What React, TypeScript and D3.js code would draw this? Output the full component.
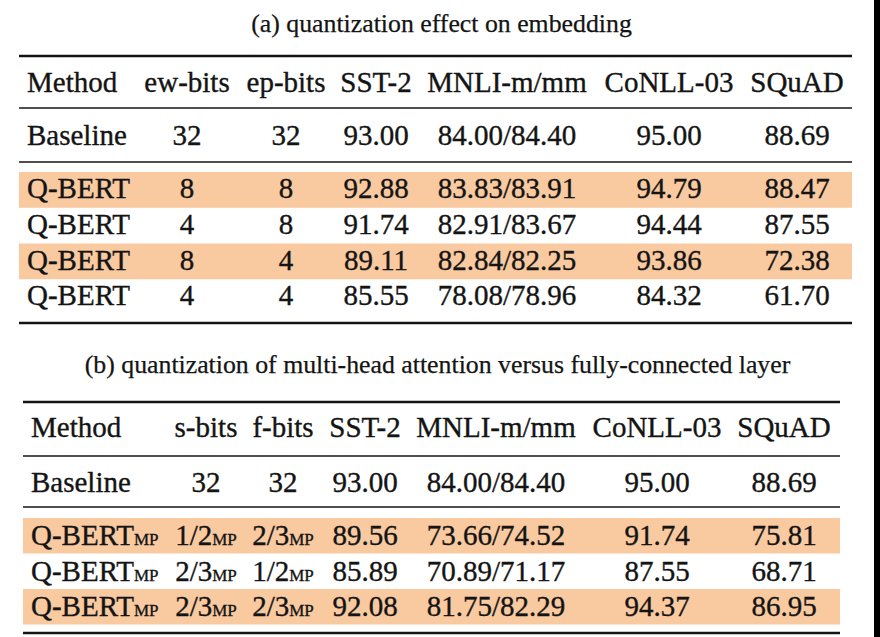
import React from "react";
import * as d3 from "d3";

// ---------- Data ----------
const titleA = "(a) quantization effect on embedding";
const titleB = "(b) quantization of multi-head attention versus fully-connected layer";

const headersA = ["Method", "ew-bits", "ep-bits", "SST-2", "MNLI-m/mm", "CoNLL-03", "SQuAD"];
const baselineA = ["Baseline", "32", "32", "93.00", "84.00/84.40", "95.00", "88.69"];
const methodsA = ["Q-BERT", "Q-BERT", "Q-BERT", "Q-BERT"];
const ewBits = ["8", "4", "8", "4"];
const epBits = ["8", "8", "4", "4"];
const sstA = ["92.88", "91.74", "89.11", "85.55"];
const mnliA = ["83.83/83.91", "82.91/83.67", "82.84/82.25", "78.08/78.96"];
const conllA = ["94.79", "94.44", "93.86", "84.32"];
const squadA = ["88.47", "87.55", "72.38", "61.70"];
const highlightA = [true, false, true, false];

const headersB = ["Method", "s-bits", "f-bits", "SST-2", "MNLI-m/mm", "CoNLL-03", "SQuAD"];
const baselineB = ["Baseline", "32", "32", "93.00", "84.00/84.40", "95.00", "88.69"];
const methodsB = ["Q-BERT", "Q-BERT", "Q-BERT"];
const sBits = ["1/2", "2/3", "2/3"];
const fBits = ["2/3", "1/2", "2/3"];
const sstB = ["89.56", "85.89", "92.08"];
const mnliB = ["73.66/74.52", "70.89/71.17", "81.75/82.29"];
const conllB = ["91.74", "87.55", "94.37"];
const squadB = ["75.81", "68.71", "86.95"];
const highlightB = [true, false, true];
const mpSub = "MP";

// ---------- Style ----------
const FONT = "'Liberation Serif', 'Times New Roman', Times, serif";
const INK = "#141414";
const HL = "#F9C9A0";
const FS = 29;
const TFS = 25.8;
const SUBFS = 17;
const WEIGHT = 0.35;

type Cell = { text: string; sub?: string };

function Table(props: {
  title: string;
  titleY: number;
  x0: number;
  x1: number;
  colCenters: number[];
  methodX: number;
  topRule: number;
  headerY: number;
  midRule: number;
  baseY: number;
  baseRule: number;
  bodyTop: number;
  bodyBottom: number;
  bottomRule: number;
  baselineOffset: number;
  headers: string[];
  baseline: string[];
  body: Cell[][];
  highlight: boolean[];
}) {
  const p = props;
  const colX = d3
    .scaleOrdinal<number, number>()
    .domain(d3.range(p.headers.length))
    .range([p.methodX, ...p.colCenters]);
  const rowY = d3
    .scaleBand<number>()
    .domain(d3.range(p.body.length))
    .range([p.bodyTop, p.bodyBottom])
    .paddingInner(0)
    .paddingOuter(0);

  const renderCell = (c: Cell, ci: number, y: number, key: string) => (
    <text
      key={key}
      x={colX(ci)}
      y={y}
      textAnchor={ci === 0 ? "start" : "middle"}
      fontFamily={FONT}
      fontSize={FS}
      fill={INK}
      stroke={INK}
      strokeWidth={WEIGHT}
    >
      {c.text}
      {c.sub ? <tspan fontSize={SUBFS}>{c.sub}</tspan> : null}
    </text>
  );

  return (
    <g>
      <text
        x={(p.x0 + p.x1) / 2 + 6}
        y={p.titleY}
        textAnchor="middle"
        fontFamily={FONT}
        fontSize={TFS}
        fill={INK}
        stroke={INK}
        strokeWidth={0.25}
      >
        {p.title}
      </text>
      {p.body.map((_, i) =>
        p.highlight[i] ? (
          <rect
            key={"hl" + i}
            x={p.x0}
            y={rowY(i)}
            width={p.x1 - p.x0}
            height={rowY.bandwidth()}
            fill={HL}
          />
        ) : null
      )}
      <line x1={p.x0} x2={p.x1} y1={p.topRule} y2={p.topRule} stroke={INK} strokeWidth={2.6} />
      <line x1={p.x0} x2={p.x1} y1={p.midRule} y2={p.midRule} stroke={INK} strokeWidth={1.6} />
      <line x1={p.x0} x2={p.x1} y1={p.baseRule} y2={p.baseRule} stroke={INK} strokeWidth={1.6} />
      <line x1={p.x0} x2={p.x1} y1={p.bottomRule} y2={p.bottomRule} stroke={INK} strokeWidth={2.6} />
      {p.headers.map((h, ci) => renderCell({ text: h }, ci, p.headerY, "h" + ci))}
      {p.baseline.map((h, ci) => renderCell({ text: h }, ci, p.baseY, "b" + ci))}
      {p.body.map((row, ri) =>
        row.map((c, ci) => renderCell(c, ci, (rowY(ri) as number) + p.baselineOffset, `r${ri}c${ci}`))
      )}
    </g>
  );
}

export default function App() {
  const bodyA: Cell[][] = methodsA.map((m, i) => [
    { text: m },
    { text: ewBits[i] },
    { text: epBits[i] },
    { text: sstA[i] },
    { text: mnliA[i] },
    { text: conllA[i] },
    { text: squadA[i] },
  ]);
  const bodyB: Cell[][] = methodsB.map((m, i) => [
    { text: m, sub: mpSub },
    { text: sBits[i], sub: mpSub },
    { text: fBits[i], sub: mpSub },
    { text: sstB[i] },
    { text: mnliB[i] },
    { text: conllB[i] },
    { text: squadB[i] },
  ]);

  return (
    <svg
      width={880}
      height={637}
      style={{ position: "absolute", left: 0, top: 0, background: "#fff" }}
    >
      <rect x={0} y={0} width={880} height={637} fill="#fff" />
      <Table
        title={titleA}
        titleY={32}
        x0={19}
        x1={852}
        methodX={27}
        colCenters={[187, 286, 376, 507, 669, 797]}
        topRule={56}
        headerY={92}
        midRule={108}
        baseY={145}
        baseRule={162}
        bodyTop={172}
        bodyBottom={315}
        bottomRule={323}
        baselineOffset={26}
        headers={headersA}
        baseline={baselineA}
        body={bodyA}
        highlight={highlightA}
      />
      <Table
        title={titleB}
        titleY={373}
        x0={23}
        x1={840}
        methodX={31}
        colCenters={[206, 283, 365, 496, 657, 784]}
        topRule={402}
        headerY={437}
        midRule={456}
        baseY={492}
        baseRule={507}
        bodyTop={518}
        bodyBottom={624.5}
        bottomRule={633}
        baselineOffset={27}
        headers={headersB}
        baseline={baselineB}
        body={bodyB}
        highlight={highlightB}
      />
      <rect x={874} y={0} width={6} height={637} fill="#000" />
    </svg>
  );
}
